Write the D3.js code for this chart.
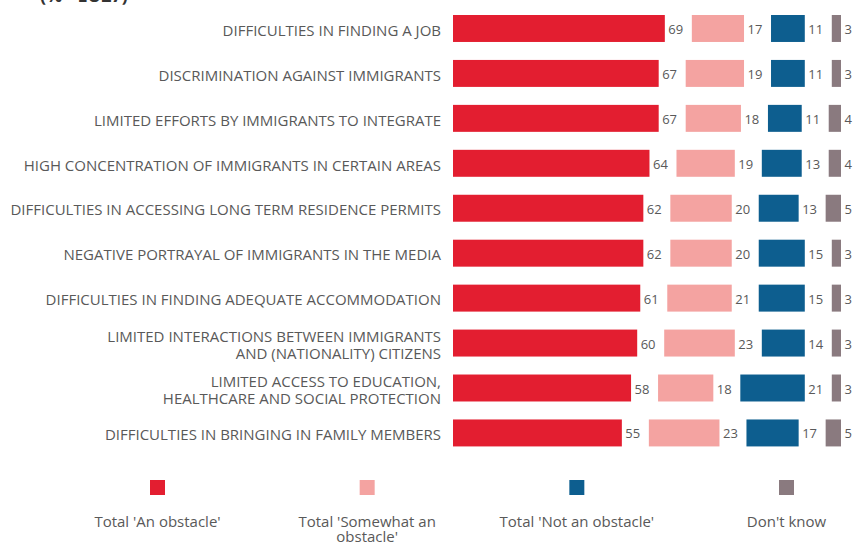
<!DOCTYPE html>
<html><head><meta charset="utf-8">
<script src="https://cdn.jsdelivr.net/npm/d3@7"></script>
<style>body{margin:0;background:#fff}svg{display:block}</style>
</head><body>
<svg id="c" width="853" height="545"></svg>
<script>
const categories = [
  ["DIFFICULTIES IN FINDING A JOB"],
  ["DISCRIMINATION AGAINST IMMIGRANTS"],
  ["LIMITED EFFORTS BY IMMIGRANTS TO INTEGRATE"],
  ["HIGH CONCENTRATION OF IMMIGRANTS IN CERTAIN AREAS"],
  ["DIFFICULTIES IN ACCESSING LONG TERM RESIDENCE PERMITS"],
  ["NEGATIVE PORTRAYAL OF IMMIGRANTS IN THE MEDIA"],
  ["DIFFICULTIES IN FINDING ADEQUATE ACCOMMODATION"],
  ["LIMITED INTERACTIONS BETWEEN IMMIGRANTS", "AND (NATIONALITY) CITIZENS"],
  ["LIMITED ACCESS TO EDUCATION,", "HEALTHCARE AND SOCIAL PROTECTION"],
  ["DIFFICULTIES IN BRINGING IN FAMILY MEMBERS"]
];
const anObstacle       = [69, 67, 67, 64, 62, 62, 61, 60, 58, 55];
const somewhatObstacle = [17, 19, 18, 19, 20, 20, 21, 23, 18, 23];
const notObstacle      = [11, 11, 11, 13, 13, 15, 15, 14, 21, 17];
const dontKnow         = [3, 3, 4, 4, 5, 3, 3, 3, 3, 5];
const seriesNames = [["Total 'An obstacle'"], ["Total 'Somewhat an", "obstacle'"], ["Total 'Not an obstacle'"], ["Don't know"]];
const colors = ["#E31E30", "#F4A3A1", "#0D5E8F", "#8A7A7F"];
const title = "(% - EU27)";

const svg = d3.select("#c");
const font = "'Open Sans', sans-serif";
const textCol = "#595959";

svg.append("text").attr("x", 40).attr("y", 2).attr("font-family", font)
  .attr("font-weight", "bold").attr("font-size", 18).attr("fill", "#333").text(title);

const keys = categories.map((d, i) => i);
const y = d3.scaleBand().domain(keys).range([15, 15 + 44.94 * 9.6]).paddingInner(0.4).paddingOuter(0);
const x = d3.scaleLinear().domain([0, 100]).range([0, 307]);
const x0 = 453, gap = 27;
const series = [anObstacle, somewhatObstacle, notObstacle, dontKnow];

const rows = svg.selectAll("g.row").data(keys).join("g").attr("class", "row");

rows.each(function(i) {
  const g = d3.select(this);
  const yc = y(i) + y.bandwidth() / 2;
  const lines = categories[i];
  const lh = 17.5;
  const t = g.append("text").attr("text-anchor", "end").attr("font-family", font)
    .attr("font-size", 15).attr("fill", textCol);
  lines.forEach((l, k) => {
    t.append("tspan").attr("x", 441)
      .attr("y", yc + 2 + (k - (lines.length - 1) / 2) * lh).attr("dy", "0.35em").text(l);
  });
  let cur = x0;
  series.forEach((s, si) => {
    const v = s[i];
    const w = x(v);
    g.append("rect").attr("x", cur).attr("y", y(i)).attr("width", w)
      .attr("height", y.bandwidth()).attr("fill", colors[si]);
    g.append("text").attr("x", cur + w + 3.5).attr("y", yc + 1).attr("dy", "0.35em")
      .attr("font-family", font).attr("font-size", 13).attr("fill", textCol).text(v);
    cur += w + gap;
  });
});

// legend
const lx = d3.scalePoint().domain([0, 1, 2, 3]).range([157.5, 786.5]);
const leg = svg.selectAll("g.leg").data([0, 1, 2, 3]).join("g").attr("class", "leg");
leg.append("rect").attr("x", d => lx(d) - 7.5).attr("y", 480).attr("width", 15).attr("height", 15)
  .attr("fill", d => colors[d]);
leg.append("text").attr("text-anchor", "middle").attr("font-family", font)
  .attr("font-size", 15).attr("fill", textCol)
  .selectAll("tspan").data(d => seriesNames[d].map(l => ({l, d}))).join("tspan")
  .attr("x", o => lx(o.d)).attr("y", (o, k) => 526.5 + k * 15.5).text(o => o.l);
</script>
</body></html>
